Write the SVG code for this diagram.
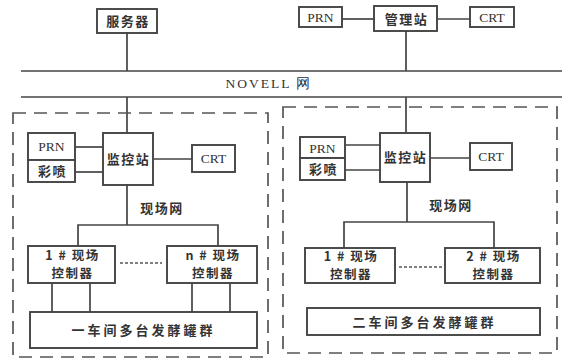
<svg xmlns="http://www.w3.org/2000/svg" width="565" height="361" viewBox="0 0 565 361">
<style>
.b{fill:#fff;stroke:#444;stroke-width:1.9}
.l{fill:none;stroke:#444;stroke-width:1.7}
.d{fill:none;stroke:#555;stroke-width:1.7;stroke-dasharray:13 8}
.dot{fill:none;stroke:#555;stroke-width:1.3;stroke-dasharray:3 2}
.c{font-family:"Noto Sans CJK SC","Noto Sans",sans-serif;font-size:13px;font-weight:700;fill:#333;text-anchor:middle;letter-spacing:1.5px}
.k{font-size:12.5px}
.e{font-family:"Liberation Serif",serif;font-size:13.5px;fill:#333;text-anchor:middle}
</style>
<rect width="565" height="361" fill="#fff"/>
<g id="connectors">
<line class="l" x1="21" y1="71" x2="562" y2="71"/>
<line class="l" x1="21" y1="97" x2="562" y2="97"/>
<line class="l" x1="127" y1="33" x2="127" y2="71"/>
<line class="l" x1="342" y1="19" x2="374" y2="19"/>
<line class="l" x1="437" y1="19" x2="470" y2="19"/>
<line class="l" x1="406" y1="31" x2="406" y2="71"/>
<line class="l" x1="127" y1="97" x2="127" y2="133"/>
<line class="l" x1="406" y1="97" x2="406" y2="133"/>
<line class="l" x1="75" y1="147" x2="103" y2="147"/>
<line class="l" x1="75" y1="172" x2="103" y2="172"/>
<line class="l" x1="153" y1="159" x2="192" y2="159"/>
<line class="l" x1="127" y1="185" x2="127" y2="225"/>
<polyline class="l" points="78,247 78,225 218,225 218,247"/>
<line class="dot" x1="120" y1="263" x2="162" y2="263"/>
<line class="l" x1="52" y1="283" x2="52" y2="312"/>
<line class="l" x1="90" y1="283" x2="90" y2="312"/>
<line class="l" x1="192" y1="283" x2="192" y2="312"/>
<line class="l" x1="230" y1="283" x2="230" y2="312"/>
<line class="l" x1="345" y1="145" x2="380" y2="145"/>
<line class="l" x1="345" y1="170" x2="380" y2="170"/>
<line class="l" x1="430" y1="158" x2="470" y2="158"/>
<line class="l" x1="407" y1="182" x2="407" y2="222"/>
<polyline class="l" points="344,248 344,222 494,222 494,248"/>
<line class="dot" x1="399" y1="267" x2="442" y2="267"/>
</g>
<g id="dash-left"><path class="d" d="M13,113 H268 V357 H13 Z"/></g>
<g id="dash-right"><path class="d" d="M283,107 H557 V353 H283 Z"/></g>
<g id="server"><rect class="b" x="97" y="9" width="60" height="24"/><text class="c" x="128" y="26">服务器</text></g>
<g id="prn-top"><rect class="b" x="299" y="7" width="43" height="20"/><text class="e" x="320.5" y="22">PRN</text></g>
<g id="mgmt"><rect class="b" x="374" y="6" width="63" height="25"/><text class="c" x="406.5" y="23.5">管理站</text></g>
<g id="crt-top"><rect class="b" x="470" y="7" width="44" height="20"/><text class="e" x="492" y="22">CRT</text></g>
<g id="novell"><text class="e" x="269" y="88" style="letter-spacing:2px">NOVELL 网</text></g>
<g id="prn-l"><rect class="b" x="28" y="133" width="47" height="27"/><text class="e" x="51.5" y="151">PRN</text></g>
<g id="cp-l"><rect class="b" x="28" y="160" width="47" height="22"/><text class="c" x="52.5" y="176">彩喷</text></g>
<g id="mon-l"><rect class="b" x="103" y="133" width="50" height="52"/><text class="c" x="128.5" y="164">监控站</text></g>
<g id="crt-l"><rect class="b" x="192" y="145" width="43" height="27"/><text class="e" x="213.5" y="163">CRT</text></g>
<g id="net-l"><text class="c" x="162" y="213">现场网</text></g>
<g id="c1-l"><rect class="b" x="28" y="246" width="87" height="37"/><text class="c k" x="72.5" y="259.5">1 # 现场</text><text class="c k" x="72.5" y="278">控制器</text></g>
<g id="cn-l"><rect class="b" x="167" y="246" width="90" height="37"/><text class="c k" x="213" y="259.5">n # 现场</text><text class="c k" x="213" y="278">控制器</text></g>
<g id="grp-l"><rect class="b" x="30" y="312" width="227" height="36"/><text class="c" x="143.5" y="335" style="letter-spacing:3px">一车间多台发酵罐群</text></g>
<g id="prn-r"><rect class="b" x="300" y="137" width="45" height="21"/><text class="e" x="322.5" y="152.5">PRN</text></g>
<g id="cp-r"><rect class="b" x="300" y="158" width="45" height="22"/><text class="c" x="323.5" y="174">彩喷</text></g>
<g id="mon-r"><rect class="b" x="380" y="133" width="50" height="49"/><text class="c" x="405.5" y="162">监控站</text></g>
<g id="crt-r"><rect class="b" x="470" y="143" width="42" height="27"/><text class="e" x="491" y="161">CRT</text></g>
<g id="net-r"><text class="c" x="451" y="210">现场网</text></g>
<g id="c1-r"><rect class="b" x="305" y="248" width="90" height="35"/><text class="c k" x="351" y="261">1 # 现场</text><text class="c k" x="351" y="279">控制器</text></g>
<g id="c2-r"><rect class="b" x="445" y="248" width="95" height="35"/><text class="c k" x="493.5" y="261">2 # 现场</text><text class="c k" x="493.5" y="279">控制器</text></g>
<g id="grp-r"><rect class="b" x="307" y="308" width="233" height="27"/><text class="c" x="424.5" y="326.5" style="letter-spacing:3px">二车间多台发酵罐群</text></g>
</svg>
